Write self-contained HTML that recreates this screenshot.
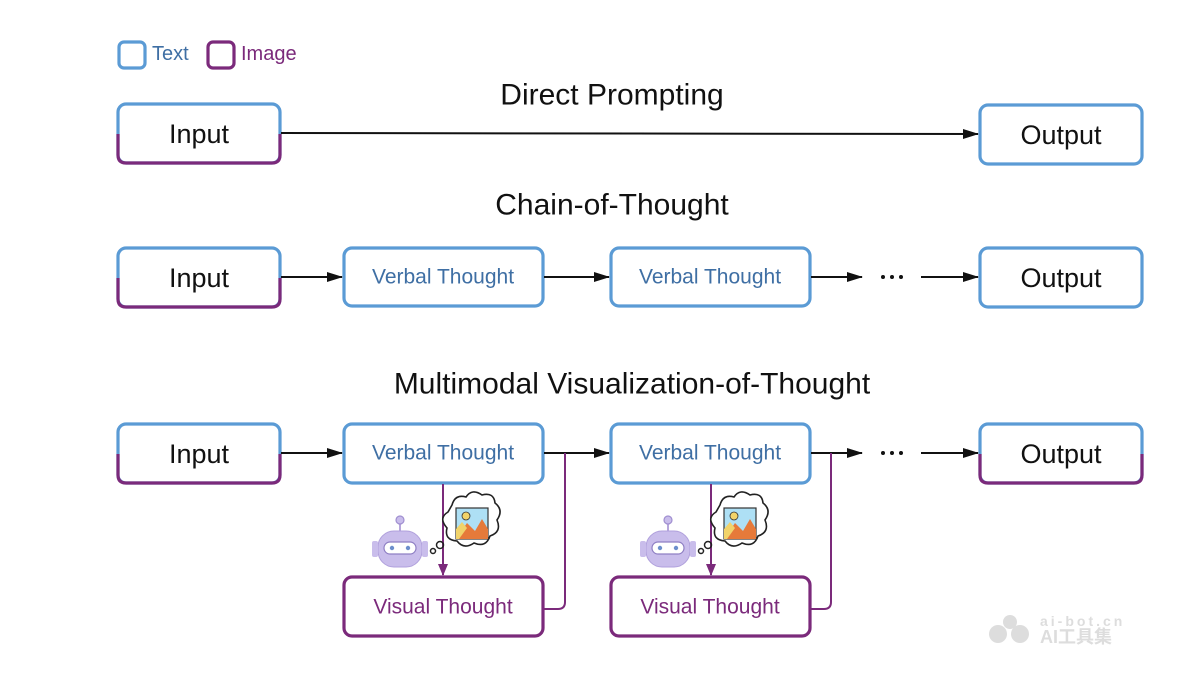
<!DOCTYPE html>
<html><head><meta charset="utf-8"><style>
html,body{margin:0;padding:0;background:#fff;}
svg{display:block;font-family:"Liberation Sans","DejaVu Sans",sans-serif;}
</style></head><body>
<svg width="1200" height="675" viewBox="0 0 1200 675" xmlns="http://www.w3.org/2000/svg">
<defs>
<marker id="ab" markerWidth="16" markerHeight="12" refX="15" refY="6" orient="auto" markerUnits="userSpaceOnUse" viewBox="0 0 16 12"><path d="M0,1 L16,6 L0,11 z" fill="#111"/></marker>
<marker id="ap" markerWidth="12" markerHeight="14" refX="11" refY="6" orient="auto" markerUnits="userSpaceOnUse" viewBox="0 0 12 12"><path d="M0,1 L12,6 L0,11 z" fill="#7b2a7b"/></marker>
</defs>
<g fill="none" stroke-width="3.2">
<rect x="119" y="42" width="26" height="26" rx="5" stroke="#5b9bd5"/>
<rect x="208" y="42" width="26" height="26" rx="5" stroke="#7b2a7b"/>
<rect x="118" y="104" width="162" height="59" rx="8" stroke="#5b9bd5"/>
<path d="M118,134 V155 Q118,163 126,163 H272 Q280,163 280,155 V134" stroke="#7b2a7b"/>
<rect x="980" y="105" width="162" height="59" rx="8" stroke="#5b9bd5"/>
<rect x="118" y="248" width="162" height="59" rx="8" stroke="#5b9bd5"/>
<path d="M118,278 V299 Q118,307 126,307 H272 Q280,307 280,299 V278" stroke="#7b2a7b"/>
<rect x="344" y="248" width="199" height="58" rx="8" stroke="#5b9bd5"/>
<rect x="611" y="248" width="199" height="58" rx="8" stroke="#5b9bd5"/>
<rect x="980" y="248" width="162" height="59" rx="8" stroke="#5b9bd5"/>
<rect x="118" y="424" width="162" height="59" rx="8" stroke="#5b9bd5"/>
<path d="M118,454 V475 Q118,483 126,483 H272 Q280,483 280,475 V454" stroke="#7b2a7b"/>
<rect x="344" y="424" width="199" height="59" rx="8" stroke="#5b9bd5"/>
<rect x="611" y="424" width="199" height="59" rx="8" stroke="#5b9bd5"/>
<rect x="980" y="424" width="162" height="59" rx="8" stroke="#5b9bd5"/>
<path d="M980,454 V475 Q980,483 988,483 H1134 Q1142,483 1142,475 V454" stroke="#7b2a7b"/>
<rect x="344" y="577" width="199" height="59" rx="8" stroke="#7b2a7b"/>
<rect x="611" y="577" width="199" height="59" rx="8" stroke="#7b2a7b"/>
</g>
<g stroke="#111" stroke-width="2" fill="none">
<line x1="281" y1="133" x2="978" y2="134" marker-end="url(#ab)"/>
<line x1="281" y1="277" x2="342" y2="277" marker-end="url(#ab)"/>
<line x1="544" y1="277" x2="609" y2="277" marker-end="url(#ab)"/>
<line x1="811" y1="277" x2="862" y2="277" marker-end="url(#ab)"/>
<line x1="921" y1="277" x2="978" y2="277" marker-end="url(#ab)"/>
<line x1="281" y1="453" x2="342" y2="453" marker-end="url(#ab)"/>
<line x1="544" y1="453" x2="609" y2="453" marker-end="url(#ab)"/>
<line x1="811" y1="453" x2="862" y2="453" marker-end="url(#ab)"/>
<line x1="921" y1="453" x2="978" y2="453" marker-end="url(#ab)"/>
</g>
<g stroke="#7b2a7b" stroke-width="2" fill="none">
<line x1="443" y1="484" x2="443" y2="575" marker-end="url(#ap)"/>
<line x1="711" y1="484" x2="711" y2="575" marker-end="url(#ap)"/>
<path d="M544,609 H558 Q565,609 565,602 V453"/>
<path d="M811,609 H824 Q831,609 831,602 V453"/>
</g>
<g id="icon1">
<g transform="translate(400,545)">
<line x1="0" y1="-22" x2="0" y2="-14" stroke="#b6a6dc" stroke-width="2"/>
<circle cx="0" cy="-25" r="4" fill="#c9bdeb" stroke="#a08fd0" stroke-width="1.2"/>
<rect x="-22" y="-14" width="44" height="36" rx="16" fill="#c9bdeb" stroke="#b0a0dc" stroke-width="1"/>
<rect x="-28" y="-4" width="6" height="16" rx="2" fill="#c9bdeb"/>
<rect x="22" y="-4" width="6" height="16" rx="2" fill="#c9bdeb"/>
<rect x="-16" y="-3" width="32" height="12" rx="6" fill="#fff" stroke="#8f7fc4" stroke-width="1.2"/>
<circle cx="-8" cy="3" r="2.2" fill="#6c8fcc"/><circle cx="8" cy="3" r="2.2" fill="#6c8fcc"/>
</g>
<circle cx="433" cy="551" r="2.5" fill="none" stroke="#222" stroke-width="1.5"/>
<circle cx="440" cy="545" r="3.5" fill="none" stroke="#222" stroke-width="1.5"/>
<path d="M452,505 Q455,494 466,497 Q472,488 482,495 Q494,492 495,503 Q504,510 497,520 Q502,532 490,536 Q486,548 474,543 Q464,550 457,541 Q444,540 447,528 Q438,518 448,512 Z" fill="#fff" stroke="#222" stroke-width="1.6"/>
<rect x="456" y="508" width="32" height="31" fill="#aee0f5" stroke="#333" stroke-width="1.2"/>
<path d="M456,539 L467,523 L475,531 L482,519 L488,529 L488,539 Z" fill="#e67a3a"/>
<path d="M456,539 L456,529 L462,522 L467,528 L459,539 Z" fill="#f1d36a"/>
<circle cx="466" cy="516" r="4" fill="#f1d36a" stroke="#333" stroke-width="0.8"/>
</g>
<use href="#icon1" transform="translate(268,0)"/>
<g text-anchor="middle" dominant-baseline="central">
<text x="152" y="54" font-size="20" fill="#3f6fa4" text-anchor="start">Text</text>
<text x="241" y="54" font-size="20" fill="#7b2a7b" text-anchor="start">Image</text>
<text x="612" y="95" font-size="30" fill="#111">Direct Prompting</text>
<text x="612" y="205" font-size="30" fill="#111">Chain-of-Thought</text>
<text x="632" y="384" font-size="30" fill="#111">Multimodal Visualization-of-Thought</text>
<text x="199" y="134" font-size="27" fill="#111">Input</text>
<text x="1061" y="135" font-size="27" fill="#111">Output</text>
<text x="199" y="278" font-size="27" fill="#111">Input</text>
<text x="1061" y="278" font-size="27" fill="#111">Output</text>
<text x="199" y="454" font-size="27" fill="#111">Input</text>
<text x="1061" y="454" font-size="27" fill="#111">Output</text>
<text x="443" y="277" font-size="21" fill="#3f6fa4">Verbal Thought</text>
<text x="710" y="277" font-size="21" fill="#3f6fa4">Verbal Thought</text>
<text x="443" y="453" font-size="21" fill="#3f6fa4">Verbal Thought</text>
<text x="710" y="453" font-size="21" fill="#3f6fa4">Verbal Thought</text>
<text x="443" y="607" font-size="21" fill="#7b2a7b">Visual Thought</text>
<text x="710" y="607" font-size="21" fill="#7b2a7b">Visual Thought</text>
</g>
<g fill="#111">
<circle cx="883" cy="277" r="2"/><circle cx="892" cy="277" r="2"/><circle cx="901" cy="277" r="2"/>
<circle cx="883" cy="453" r="2"/><circle cx="892" cy="453" r="2"/><circle cx="901" cy="453" r="2"/>
</g>
<g fill="#ddd">
<circle cx="1010" cy="622" r="7"/><circle cx="998" cy="634" r="9"/><circle cx="1020" cy="634" r="9"/>
<text x="1040" y="626" font-size="14" font-weight="bold" fill="#ddd" letter-spacing="3">ai-bot.cn</text>
<text x="1040" y="643" font-size="18" font-weight="bold" fill="#ddd" font-family="Liberation Sans, Noto Sans CJK SC, sans-serif">AI工具集</text>
</g>
</svg>
</body></html>
